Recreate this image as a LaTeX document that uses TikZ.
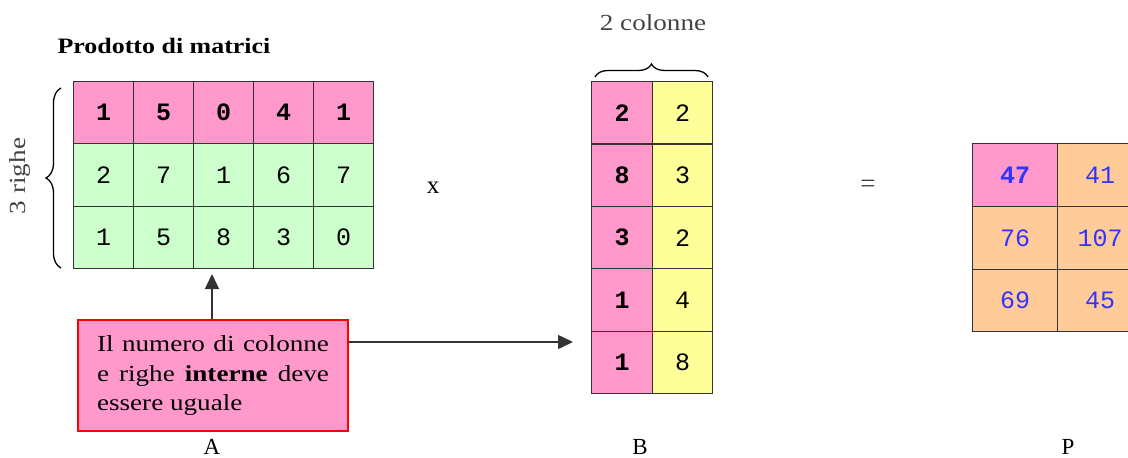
\documentclass[tikz,border=0pt]{standalone}
\usepackage{fontspec}
\setmainfont{Liberation Serif}
\setmonofont{Liberation Mono}
\newfontfamily\widefont[FakeStretch=1.18]{Liberation Serif}
\usetikzlibrary{decorations.pathreplacing,arrows.meta}
\definecolor{cpink}{HTML}{FF99CC}
\definecolor{cgreen}{HTML}{CCFFCC}
\definecolor{cyellow}{HTML}{FFFF99}
\definecolor{corange}{HTML}{FFCC99}
\definecolor{cblue}{HTML}{3333FF}
\definecolor{cgrid}{HTML}{333333}
\definecolor{cnote}{HTML}{444444}
\tikzset{
  cell/.style={draw=cgrid, line width=1.2pt, minimum width=#1, inner sep=0pt,
    font=\fontsize{25}{25}\selectfont\ttfamily, anchor=north west},
  cell/.default=60pt,
  boldcell/.style={font=\fontsize{25}{25}\selectfont\ttfamily\bfseries},
  lbl/.style={font=\fontsize{23}{23}\selectfont, text=black},
  note/.style={font=\widefont\fontsize{23}{23}\selectfont, text=cnote},
  bracedeco/.style={decorate, decoration={brace, amplitude=#1}, line width=1.3pt},
  bracedeco/.default=12pt,
  arr/.style={-{Triangle[length=15pt,width=14pt]}, line width=1.6pt, draw=black!80}
}
\begin{document}
\begin{tikzpicture}[x=1pt,y=-1pt]
\useasboundingbox (0,0) rectangle (1128,458);
\clip (0,0) rectangle (1128,458);

\node[font=\widefont\fontsize{22}{22}\selectfont\bfseries, anchor=base west] (title) at (54,53) {Prodotto di matrici};

% matrix A
\foreach \v [count=\i from 0] in {1,5,0,4,1}
  \node[cell, minimum height=62pt, fill=cpink, boldcell] (a0\i) at (73+60*\i,81) {\v};
\foreach \v [count=\i from 0] in {2,7,1,6,7}
  \node[cell, minimum height=63pt, fill=cgreen] (a1\i) at (73+60*\i,143) {\v};
\foreach \v [count=\i from 0] in {1,5,8,3,0}
  \node[cell, minimum height=62pt, fill=cgreen] (a2\i) at (73+60*\i,206) {\v};

\draw[bracedeco=15pt] (61,268) -- (61,88);
\node[note, rotate=90] (righe) at (20,176) {3 righe};

% matrix B
\foreach \p/\y [count=\i from 0] in {2/2,8/3,3/2,1/4,1/8} {
  \node[cell=61pt, minimum height=62.5pt, fill=cpink, boldcell] (b\i0) at (591,81+62.4*\i) {\p};
  \node[cell, minimum height=62.5pt, fill=cyellow] (b\i1) at (652,81+62.4*\i) {\y};
}
\draw[bracedeco=13pt] (595,77) -- (708,77);
\node[note] (colonne) at (653,23) {2 colonne};

% matrix P
\node[cell=85pt, minimum height=63pt, fill=cpink, text=cblue, boldcell] (p00) at (972,143) {47};
\node[cell=85pt, minimum height=63pt, fill=corange, text=cblue] (p01) at (1057,143) {41};
\node[cell=85pt, minimum height=63pt, fill=corange, text=cblue] (p10) at (972,206) {76};
\node[cell=85pt, minimum height=63pt, fill=corange, text=cblue] (p11) at (1057,206) {107};
\node[cell=85pt, minimum height=62pt, fill=corange, text=cblue] (p20) at (972,269) {69};
\node[cell=85pt, minimum height=62pt, fill=corange, text=cblue] (p21) at (1057,269) {45};

\node[lbl, font=\fontsize{25}{25}\selectfont] (times) at (433,188) {x};
\node[lbl, font=\fontsize{27}{27}\selectfont, text=black!75] (eq) at (868,186) {=};

% explanation box
\node[draw=red, line width=2pt, fill=cpink, anchor=north west, minimum width=270pt, minimum height=111pt,
  inner sep=0pt, text width=232pt, align=justify,
  font=\widefont\fontsize{23}{29.5}\selectfont] (box) at (77,319)
  {Il numero di colonne e righe \textbf{interne} deve essere uguale};

\coordinate (tipA) at (212,274);
\coordinate (tipB) at (573,342);
\draw[arr] (box.north -| tipA) -- (tipA);
\draw[arr] (box.east |- tipB) -- (tipB);

\node[lbl] (la) at (212,447) {A};
\node[lbl] (lb) at (640,447) {B};
\node[lbl] (lp) at (1068,447) {P};
\end{tikzpicture}
\end{document}
